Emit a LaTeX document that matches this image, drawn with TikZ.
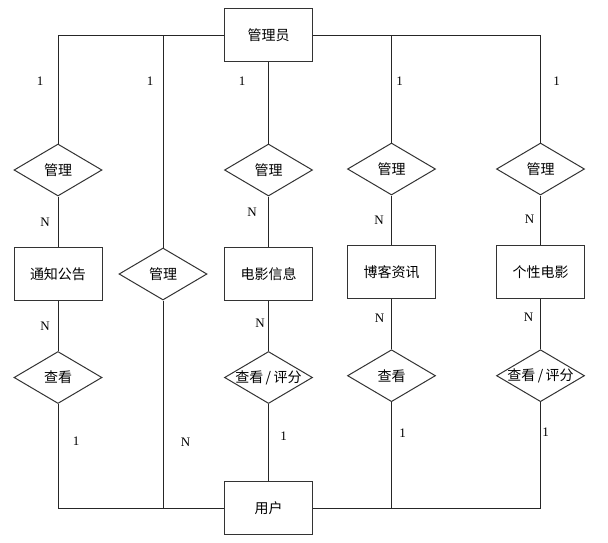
\documentclass[tikz,border=0pt]{standalone}
\usepackage{fontspec}
\setmainfont{Liberation Serif}
\newfontfamily\cjk{Noto Sans CJK SC}
\usetikzlibrary{shapes.geometric}
\begin{document}
\begin{tikzpicture}[x=1pt,y=-1pt,
  line width=1pt, draw=black!85,
  ent/.style={draw=black!80, rectangle, minimum width=88pt, minimum height=53pt, inner sep=0pt, font=\cjk\fontsize{14pt}{16pt}\selectfont},
  rel/.style={draw=black!80, diamond, minimum width=88pt, minimum height=52pt, inner sep=0pt, font=\cjk\fontsize{14pt}{16pt}\selectfont},
  card/.style={inner sep=0pt, font=\fontsize{13pt}{15pt}\selectfont},
  conn/.style={draw=black!85, line width=1pt}]
\useasboundingbox (0,0) rectangle (608,542);
\fill[white] (0,0) rectangle (608,542);
% entities
\node[ent] (admin) at (268.5,35) {管理员};
\node[ent] (user) at (268.5,508) {用户};
\node[ent] (e1) at (58,274) {通知公告};
\node[ent] (e3) at (268.5,274) {电影信息};
\node[ent] (e4) at (391.5,272) {博客资讯};
\node[ent] (e5) at (540.5,272) {个性电影};
% relations
\node[rel] (r11) at (58,170) {\makebox[0pt]{管理}};
\node[rel] (r13) at (268.5,170) {\makebox[0pt]{管理}};
\node[rel] (r14) at (391.5,169) {\makebox[0pt]{管理}};
\node[rel] (r15) at (540.5,169) {\makebox[0pt]{管理}};
\node[rel] (r2) at (163,274) {\makebox[0pt]{管理}};
\node[rel] (r31) at (58,377.5) {\makebox[0pt]{查看}};
\node[rel] (r33) at (268.5,377.5) {\makebox[0pt]{查看\,/\,评分}};
\node[rel] (r34) at (391.5,375.7) {\makebox[0pt]{查看}};
\node[rel] (r35) at (540.5,375.7) {\makebox[0pt]{查看\,/\,评分}};
% connectors
\draw[conn] (admin.west) -| (r11.north);
\draw[conn] (admin.west) -| (r2.north);
\draw[conn] (admin.south) -- (r13.north);
\draw[conn] (admin.east) -| (r14.north);
\draw[conn] (admin.east) -| (r15.north);
\draw[conn] (r11.south) -- (e1.north);
\draw[conn] (e1.south) -- (r31.north);
\draw[conn] (r31.south) |- (user.west);
\draw[conn] (r2.south) |- (user.west);
\draw[conn] (r13.south) -- (e3.north);
\draw[conn] (e3.south) -- (r33.north);
\draw[conn] (r33.south) -- (user.north);
\draw[conn] (r14.south) -- (e4.north);
\draw[conn] (e4.south) -- (r34.north);
\draw[conn] (r34.south) |- (user.east);
\draw[conn] (r15.south) -- (e5.north);
\draw[conn] (e5.south) -- (r35.north);
\draw[conn] (r35.south) |- (user.east);
% cardinalities
\node[card] (c1a) at (40,81) {1};
\node[card] (c2a) at (150,81) {1};
\node[card] (c3a) at (242,81) {1};
\node[card] (c4a) at (399.5,81) {1};
\node[card] (c5a) at (556.5,81) {1};
\node[card] (c1b) at (45,222) {N};
\node[card] (c3b) at (252,212) {N};
\node[card] (c4b) at (379,220) {N};
\node[card] (c5b) at (529.5,219) {N};
\node[card] (c1c) at (45,326) {N};
\node[card] (c3c) at (260,323.5) {N};
\node[card] (c4c) at (379.5,318.5) {N};
\node[card] (c5c) at (528.5,317) {N};
\node[card] (c1d) at (76,441) {1};
\node[card] (c2d) at (185.5,442) {N};
\node[card] (c3d) at (283.5,436) {1};
\node[card] (c4d) at (402.5,433) {1};
\node[card] (c5d) at (545.5,432) {1};
\end{tikzpicture}
\end{document}
